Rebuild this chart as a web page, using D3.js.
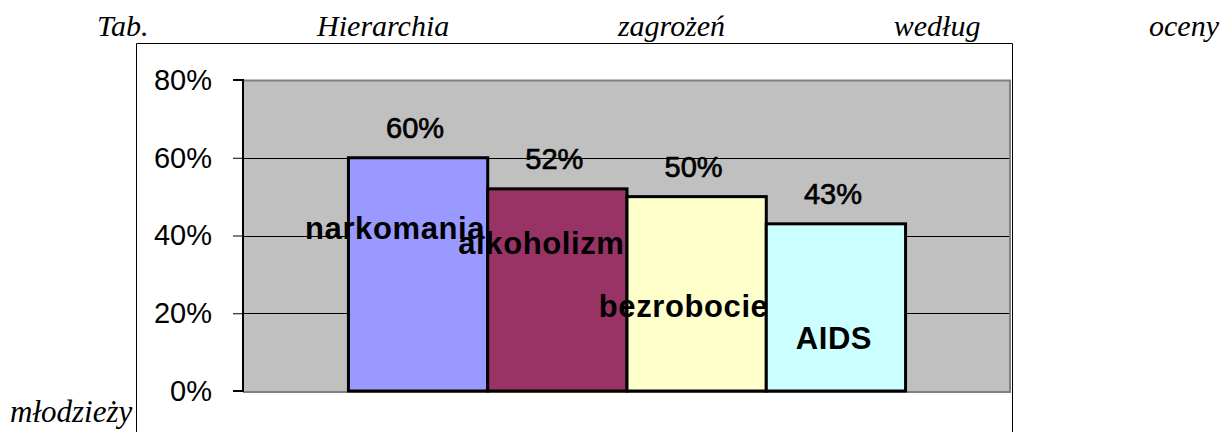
<!DOCTYPE html>
<html>
<head>
<meta charset="utf-8">
<script src="https://cdn.jsdelivr.net/npm/d3@7"></script>
<style>
  body { margin: 0; background: #fff; }
  svg { display: block; }
</style>
</head>
<body>
<div id="chart"></div>
<script>
// data
const categories = ['narkomania', 'alkoholizm', 'bezrobocie', 'AIDS'];
const values = [0.60, 0.52, 0.50, 0.43];
const barColors = ['#9999FF', '#993366', '#FFFFCC', '#CCFFFF'];
const yTicks = [0, 0.2, 0.4, 0.6, 0.8];
const titleWords = ['Tab.', 'Hierarchia', 'zagrożeń', 'według', 'oceny'];
const tailWord = 'młodzieży';

// hand-placed category labels (offset from bar centre, baseline y)
const labelDx = [-23, -16, -13, -2];
const labelY = [239, 254, 317, 349];

const width = 1224;
const height = 432;
const plot = { left: 243, right: 1011, top: 80, bottom: 391 };

const svg = d3.select('#chart')
    .append('svg')
    .attr('width', width)
    .attr('height', height);

// outer chart frame
svg.append('path')
    .attr('d', `M136.5,${height} V43.5 H1012.5 V${height}`)
    .attr('fill', '#fff')
    .attr('stroke', '#000')
    .attr('stroke-width', 1);

const x = d3.scaleBand()
    .domain(categories)
    .range([plot.left, plot.right])
    .paddingInner(0)
    .paddingOuter(0.757);

const y = d3.scaleLinear()
    .domain([0, 0.8])
    .range([plot.bottom, plot.top]);

// plot area
svg.append('rect')
    .attr('x', plot.left)
    .attr('y', plot.top)
    .attr('width', plot.right - plot.left)
    .attr('height', plot.bottom - plot.top)
    .attr('fill', '#C0C0C0');

// gray border top / right / bottom
svg.append('path')
    .attr('d', `M${plot.left},${plot.top + 0.5} H${plot.right - 1} V${plot.bottom + 1} H${plot.left}`)
    .attr('fill', 'none')
    .attr('stroke', '#808080')
    .attr('stroke-width', 2);

// gridlines
svg.append('g')
    .selectAll('line')
    .data(yTicks.filter(d => d > 0 && d < 0.8))
    .join('line')
    .attr('x1', plot.left)
    .attr('x2', plot.right - 2)
    .attr('y1', d => Math.round(y(d)) + 0.5)
    .attr('y2', d => Math.round(y(d)) + 0.5)
    .attr('stroke', '#000')
    .attr('stroke-width', 1);

// bars
svg.append('g')
    .selectAll('rect')
    .data(values)
    .join('rect')
    .attr('x', (d, i) => x(categories[i]))
    .attr('y', d => y(d))
    .attr('width', x.bandwidth())
    .attr('height', d => y(0) - y(d))
    .attr('fill', (d, i) => barColors[i])
    .attr('stroke', '#000')
    .attr('stroke-width', 3);

// y axis
const yAxis = svg.append('g')
    .attr('transform', `translate(${plot.left},0)`)
    .call(d3.axisLeft(y)
        .tickValues(yTicks)
        .tickFormat(d3.format('.0%'))
        .tickSize(10)
        .tickPadding(21));
yAxis.select('.domain').attr('stroke', '#000').attr('stroke-width', 2)
    .attr('d', `M-10,${y(0.8)}H0V${y(0)}H-10`);
yAxis.selectAll('.tick line').attr('stroke', '#000');
yAxis.selectAll('.tick text')
    .attr('font-family', '"Liberation Sans", Arial, sans-serif')
    .attr('font-size', '29px')
    .attr('fill', '#000');

// value labels
svg.append('g')
    .selectAll('text')
    .data(values)
    .join('text')
    .attr('x', (d, i) => x(categories[i]) + x.bandwidth() / 2 - 3)
    .attr('y', d => y(d) - 20)
    .attr('text-anchor', 'middle')
    .attr('font-family', '"Liberation Sans", Arial, sans-serif')
    .attr('font-size', '29px')
    .attr('stroke', '#000')
    .attr('stroke-width', 0.7)
    .text(d => d3.format('.0%')(d));

// category labels
svg.append('g')
    .selectAll('text')
    .data(categories)
    .join('text')
    .attr('x', (d, i) => x(d) + x.bandwidth() / 2 + labelDx[i])
    .attr('y', (d, i) => labelY[i])
    .attr('text-anchor', 'middle')
    .attr('font-family', '"Liberation Sans", Arial, sans-serif')
    .attr('font-size', '31px')
    .attr('font-weight', 'bold')
    .attr('letter-spacing', '0.6px')
    .text(d => d);

// justified title line
const titleFont = '"Liberation Serif", "Times New Roman", serif';
const words = svg.append('g')
    .selectAll('text')
    .data(titleWords)
    .join('text')
    .attr('y', 36)
    .attr('font-family', titleFont)
    .attr('font-style', 'italic')
    .attr('font-size', '30px')
    .text(d => d);

const lineStart = 97, lineEnd = 1219;
const widths = words.nodes().map(n => n.getComputedTextLength());
const gap = (lineEnd - lineStart - d3.sum(widths)) / (titleWords.length - 1);
let cx = lineStart;
words.attr('x', (d, i) => {
    const pos = cx;
    cx += widths[i] + gap;
    return pos;
});

svg.append('text')
    .attr('x', 10)
    .attr('y', 422)
    .attr('font-family', titleFont)
    .attr('font-style', 'italic')
    .attr('font-size', '31px')
    .text(tailWord);
</script>
</body>
</html>
